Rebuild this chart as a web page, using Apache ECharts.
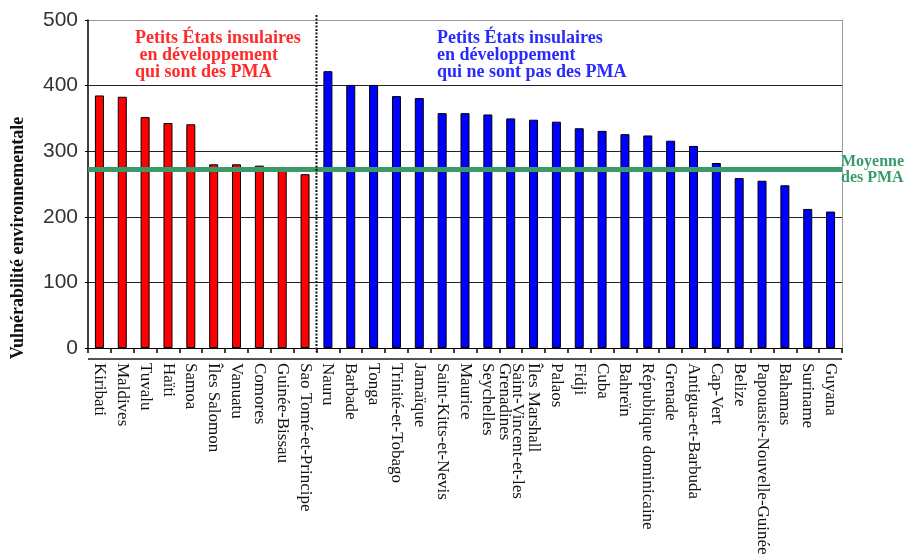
<!DOCTYPE html>
<html><head><meta charset="utf-8">
<script src="https://cdn.jsdelivr.net/npm/echarts@6/dist/echarts.min.js"></script>
<style>html,body{margin:0;padding:0;background:#fff}#c{width:911px;height:556px}</style>
</head><body><div id="c"></div>
<script>
const ldcCountries = ["Kiribati","Maldives","Tuvalu","Haïti","Samoa","Îles Salomon","Vanuatu","Comores","Guinée-Bissau","Sao Tomé-et-Principe"];
const ldcValues = [385, 383, 352, 343, 341, 280, 280, 278, 270, 265];
const nonLdcCountries = ["Nauru","Barbade","Tonga","Trinité-et-Tobago","Jamaïque","Saint-Kitts-et-Nevis","Maurice","Seychelles","Saint-Vincent-et-les\nGrenadines","Îles Marshall","Palaos","Fidji","Cuba","Bahreïn","République dominicaine","Grenade","Antigua-et-Barbuda","Cap-Vert","Belize","Papouasie-Nouvelle-Guinée","Bahamas","Suriname","Guyana"];
const nonLdcValues = [422, 401, 401, 384, 381, 358, 358, 356, 350, 348, 345, 335, 331, 326, 324, 316, 308, 282, 259, 255, 248, 212, 208];
const ldcMean = 272;
const yTicks = [0, 100, 200, 300, 400, 500];

const categories = ldcCountries.concat(nonLdcCountries);
const redData = categories.map((c, i) => i < ldcValues.length ? ldcValues[i] : '-');
const blueData = categories.map((c, i) => i < ldcValues.length ? '-' : nonLdcValues[i - ldcValues.length]);

const chart = echarts.init(document.getElementById('c'));
const serif = 'Liberation Serif';
chart.setOption({
  animation: false,
  grid: { left: 88, right: 69, top: 20, bottom: 208, outerBoundsMode: 'none', containLabel: false },
  xAxis: [{
    type: 'category', data: categories,
    axisLine: { lineStyle: { color: '#000', width: 1 } },
    axisTick: { show: true, length: 5, lineStyle: { color: '#000', width: 1.5 } },
    axisLabel: { rotate: -90, interval: 0, margin: 15, fontFamily: serif, fontSize: 17, color: '#111', lineHeight: 13 }
  }],
  yAxis: [{
    type: 'value', min: yTicks[0], max: yTicks[yTicks.length - 1], interval: 100,
    axisLine: { show: true, lineStyle: { color: '#000', width: 1.5 } },
    axisTick: { show: true, length: 3, lineStyle: { color: '#000' } },
    axisLabel: { fontFamily: 'Liberation Sans', fontSize: 21, color: '#333', margin: 10 },
    splitLine: { lineStyle: { color: ['#222', '#222', '#222', '#222', '#222', '#999'], width: 1.2 } }
  }, {
    type: 'value', position: 'right', min: 0, max: 500, interval: 100,
    axisLine: { show: true, lineStyle: { color: '#999', width: 1 } },
    axisTick: { show: false }, axisLabel: { show: false }, splitLine: { show: false }
  }],
  series: [{
    type: 'bar', data: redData, barWidth: 9, barGap: '-100%',
    itemStyle: { color: '#ff0000', borderColor: '#000', borderWidth: 1 }
  }, {
    type: 'bar', data: blueData, barWidth: 9,
    itemStyle: { color: '#0000ff', borderColor: '#000', borderWidth: 1 },
    markLine: {
      silent: true, symbol: 'none', label: { show: false },
      lineStyle: { color: '#3a9a6a', width: 5, type: 'solid' },
      data: [{ yAxis: ldcMean }]
    }
  }]
});

function addGraphics() {
  const x9 = chart.convertToPixel({ xAxisIndex: 0 }, 9);
  const x10 = chart.convertToPixel({ xAxisIndex: 0 }, 10);
  const xd = (x9 + x10) / 2;
  const yTop = chart.convertToPixel({ yAxisIndex: 0 }, 500);
  const y0 = chart.convertToPixel({ yAxisIndex: 0 }, 0);
  const yMean = chart.convertToPixel({ yAxisIndex: 0 }, ldcMean);
  const rect = chart.getModel().getComponent('grid').coordinateSystem.getRect();
  chart.setOption({
    graphic: [
      { type: 'line', shape: { x1: xd, y1: yTop - 5, x2: xd, y2: y0 + 4 }, z: 50,
        style: { stroke: '#111', lineWidth: 2, lineDash: [2, 1.5] } },
      { type: 'line', shape: { x1: rect.x, y1: y0 + 11, x2: rect.x + rect.width, y2: y0 + 11 }, z: 50,
        style: { stroke: '#555', lineWidth: 2 } },
      { type: 'text', x: 18, y: 238, rotation: Math.PI / 2, z: 60,
        style: { text: 'Vulnérabilité environnementale', fill: '#111', align: 'center', verticalAlign: 'middle',
          font: 'bold 18px "Liberation Serif"' } },
      { type: 'text', left: 135, top: 29, z: 60,
        style: { text: 'Petits États insulaires\n en développement\nqui sont des PMA', fill: '#ff2a2a',
          font: 'bold 18px "Liberation Serif"', lineHeight: 17 } },
      { type: 'text', left: 437, top: 29, z: 60,
        style: { text: 'Petits États insulaires\nen développement\nqui ne sont pas des PMA', fill: '#2a2aff',
          font: 'bold 18px "Liberation Serif"', lineHeight: 17 } },
      { type: 'text', left: 841, top: yMean - 16, z: 60,
        style: { text: 'Moyenne\ndes PMA', fill: '#3a9a6a',
          font: 'bold 16px "Liberation Serif"', lineHeight: 16 } }
    ]
  });
}
addGraphics();
</script>
</body></html>
